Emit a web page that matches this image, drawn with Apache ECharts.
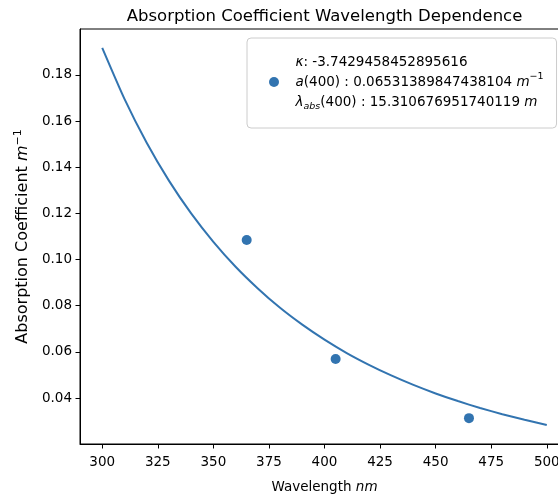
<!DOCTYPE html>
<html>
<head>
<meta charset="utf-8">
<script src="https://cdn.jsdelivr.net/npm/echarts@6/dist/echarts.min.js"></script>
<style>
html,body{margin:0;padding:0;background:#fff;}
#chart{width:558px;height:495px;}
</style>
</head>
<body>
<div id="chart"></div>
<script>
// Fitted curve
const curveWavelengths = [300,310,320,330,340,350,360,370,380,390,400,410,420,430,440,450,460,470,480,490,500];
const curveValues = [0.1917,0.1696,0.1506,0.1342,0.1200,0.1077,0.0969,0.0875,0.0791,0.0718,0.0653,0.0595,0.0544,0.0498,0.0457,0.0420,0.0387,0.0357,0.0330,0.0306,0.0283];
// Measured samples
const sampleWavelengths = [365, 405, 465];
const sampleValues = [0.1085, 0.0569, 0.0313];
// Tick labels
const xTicks = [300,325,350,375,400,425,450,475,500];
const yTicks = [0.04,0.06,0.08,0.10,0.12,0.14,0.16,0.18];
// Texts
const titleText = 'Absorption Coefficient Wavelength Dependence';
const legendLines = ['-3.7429458452895616', '0.06531389847438104', '15.310676951740119'];

const FONT = 'DejaVu Sans';
const BLUE = '#3274b0';
const chart = echarts.init(document.getElementById('chart'), null, {renderer: 'canvas'});

const curveData = curveWavelengths.map((w, i) => [w, curveValues[i]]);
const sampleData = sampleWavelengths.map((w, i) => [w, sampleValues[i]]);

const richBase = {
  n: {fontFamily: FONT, fontSize: 13.5, color: '#000', lineHeight: 20},
  i: {fontFamily: FONT, fontSize: 13.5, color: '#000', fontStyle: 'italic', lineHeight: 20},
  sup: {fontFamily: FONT, fontSize: 9.5, color: '#000', lineHeight: 9, verticalAlign: 'top'},
  sub: {fontFamily: FONT, fontSize: 9.5, color: '#000', fontStyle: 'italic', lineHeight: 11, verticalAlign: 'bottom'}
};
const richY = {
  n: {fontFamily: FONT, fontSize: 16, color: '#000', lineHeight: 20},
  i: {fontFamily: FONT, fontSize: 16, color: '#000', fontStyle: 'italic', lineHeight: 20},
  sup: {fontFamily: FONT, fontSize: 11, color: '#000', lineHeight: 9, verticalAlign: 'top'}
};

chart.setOption({
  animation: false,
  backgroundColor: '#fff',
  title: {
    text: titleText,
    left: 319.5,
    textAlign: 'center',
    top: 3,
    textStyle: {fontFamily: FONT, fontSize: 16.5, fontWeight: 'normal', color: '#000'}
  },
  grid: {
    left: 80, top: 29, width: 489, bottom: 51,
    outerBoundsMode: 'none',
    show: true, borderColor: '#000', borderWidth: 1, containLabel: false
  },
  legend: {
    data: ['samples'],
    left: 247, top: 38,
    orient: 'vertical',
    icon: 'circle',
    itemWidth: 33, itemHeight: 10,
    padding: [17, 13, 16, 22],
    backgroundColor: 'rgba(255,255,255,0.8)',
    borderColor: '#cccccc', borderWidth: 1, borderRadius: 4,
    selectedMode: false,
    formatter: function () {
      return '{i|κ}{n|: ' + legendLines[0] + '}\n' +
             '{i|a}{n|(400) : ' + legendLines[1] + ' }{i|m}{sup|−1}\n' +
             '{i|λ}{sub|abs}{n|(400) : ' + legendLines[2] + ' }{i|m}';
    },
    textStyle: {fontFamily: FONT, fontSize: 13.5, color: '#000', rich: richBase}
  },
  xAxis: {
    type: 'value', min: 290, max: 510,
    name: '{n|Wavelength }{i|nm}',
    nameLocation: 'middle', nameGap: 33,
    nameTextStyle: {rich: richBase},
    axisLine: {show: true, lineStyle: {color: '#000', width: 1}},
    axisTick: {show: true, length: 4.5, customValues: xTicks, lineStyle: {color: '#000'}},
    axisLabel: {customValues: xTicks, margin: 11, fontFamily: FONT, fontSize: 13.5, color: '#000'},
    splitLine: {show: false}
  },
  yAxis: {
    type: 'value', min: 0.0201, max: 0.1999,
    name: '{n|Absorption Coefficient }{i|m}{sup|−1}',
    nameLocation: 'middle', nameGap: 42, nameRotate: 90,
    nameTextStyle: {rich: richY},
    axisLine: {show: true, lineStyle: {color: '#000', width: 1}},
    axisTick: {show: true, length: 4.5, customValues: yTicks, lineStyle: {color: '#000'}},
    axisLabel: {customValues: yTicks, margin: 8, fontFamily: FONT, fontSize: 13.5, color: '#000',
      formatter: v => v.toFixed(2)},
    splitLine: {show: false}
  },
  series: [
    {
      name: 'curve', type: 'line', data: curveData, showSymbol: false, symbol: 'none',
      smooth: 0.2, lineStyle: {color: BLUE, width: 2}, z: 2
    },
    {
      name: 'samples', type: 'scatter', data: sampleData, symbol: 'circle', symbolSize: 10,
      itemStyle: {color: BLUE, opacity: 1}, z: 3
    }
  ]
});
</script>
</body>
</html>
